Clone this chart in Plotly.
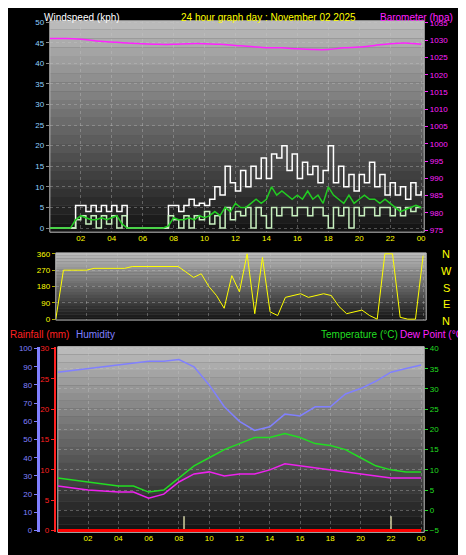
import plotly.graph_objects as go

# ---------------- data ----------------
wind_hours = [i/3 for i in range(73)]
gust = [0,0,0,0,0,5.5,5.5,4,5.5,4,5.5,4,5.5,4,5.5,0,0,0,0,0,0,0,0,5.5,5.5,4,5.5,7,5.5,6,5.5,7,10,8,15,11,9,14,10,15,12,17,12,18,17,20,14,18,12,16,13,15,11,14,20,11,15,10,13,9,13,11,16,10,13,8,11,8,10,7,11,8,9]
wind_avg = [0,0,0,0,0,2,3,2.5,2,2,2.5,2,2.5,3,1,0,0,0,0,0,0,0,0,0.5,2.5,2,2,2.5,2,3,2.5,3,4,3,5,4,6,5,5,6,7,6,7,10,8,9,8,7,8,7,9,7,8,6,10,8,7,6,8,6,7,8,7,7,6,7,6,5,4,4.5,5,5.5,5]
wind_spd = [0,0,0,0,0,2,3,1,3,0,3,1,3,0,3,0,0,0,0,0,0,0,0,3,2,0,3,0,3,2,4,1,3,0,5,2,4,3,5,0,5,3,0,5,3,5,5,3,5,5,3,5,5,3,0,5,3,5,0,5,3,5,5,3,5,5,3,5,3,5,4,5,5]
hours = list(range(25))
baro = [1030.5,1030.5,1030.3,1029.8,1029.5,1029.2,1029,1028.8,1028.8,1029,1029,1028.8,1028.5,1028.2,1027.8,1027.8,1027.5,1027.3,1027.3,1027.8,1028,1028.5,1029,1029.2,1028.8]
dir_hours = [i/2 for i in range(49)]
wind_dir = [0,270,270,270,270,280,280,280,280,280,290,290,290,290,290,290,290,260,230,250,180,130,60,240,150,360,30,340,40,20,120,130,140,120,130,140,130,70,30,40,50,20,0,360,360,10,0,0,350]
humidity = [87,88,89,90,91,92,93,93,94,90,80,68,60,55,57,64,63,68,68,75,78,82,87,89,91]
temperature = [8,7.5,7,6.5,6,6,4.5,5,8,11,13,15,16.5,18,18,19,18,16.5,16,15,13,11,10,9.5,9.5]
dewpoint = [6,5.5,5,4.8,4.5,4.5,3,4,7,9,9.5,8.5,9,9,10,11.5,11,10.5,10,9.5,9,8.5,8,8,8]
rainfall = [0]*25
marker_hours = [8.33, 22.0]
tick_vals = [2,4,6,8,10,12,14,16,18,20,22,24]
tick_text = ["02","04","06","08","10","12","14","16","18","20","22","00"]

fig = go.Figure()
W, H = 466, 555
def px(x): return x / W
def py(y): return 1 - y / H

F = dict(family="Liberation Sans", size=8)
xcommon = dict(range=[0, 24.2], tickvals=tick_vals, ticktext=tick_text, showgrid=True,
               gridcolor="rgba(200,200,200,0.35)", griddash="dot", tickfont=dict(F, color="#ffff00"),
               zeroline=False, showline=False)

fig.add_trace(go.Scatter(x=wind_hours, y=gust, mode="lines", line=dict(color="white", width=1.5, shape="hv"), xaxis="x", yaxis="y"))
fig.add_trace(go.Scatter(x=wind_hours, y=wind_spd, mode="lines", line=dict(color="#c8f0c0", width=1.5, shape="hv"), xaxis="x", yaxis="y"))
fig.add_trace(go.Scatter(x=wind_hours, y=wind_avg, mode="lines", line=dict(color="#22cc22", width=1.5), xaxis="x", yaxis="y"))
fig.add_trace(go.Scatter(x=hours, y=baro, mode="lines", line=dict(color="#ff22ff", width=1.5, shape="spline"), xaxis="x", yaxis="y2"))
fig.add_trace(go.Scatter(x=dir_hours, y=wind_dir, mode="lines", line=dict(color="#ffff00", width=1), xaxis="x2", yaxis="y3"))
fig.add_trace(go.Scatter(x=hours, y=humidity, mode="lines", line=dict(color="#8080ff", width=1.5), xaxis="x3", yaxis="y4"))
fig.add_trace(go.Scatter(x=hours, y=rainfall, mode="lines", line=dict(color="#ff0000", width=3), xaxis="x3", yaxis="y5"))
fig.add_trace(go.Scatter(x=hours, y=temperature, mode="lines", line=dict(color="#22dd22", width=1.5), xaxis="x3", yaxis="y6"))
fig.add_trace(go.Scatter(x=hours, y=dewpoint, mode="lines", line=dict(color="#ee22ee", width=1.5), xaxis="x3", yaxis="y6"))
fig.add_trace(go.Bar(x=marker_hours, y=[3.5]*len(marker_hours), base=-5, width=0.08, marker_color="#b0a000", xaxis="x3", yaxis="y6"))

d1x, d1y = [px(42), px(418)], [py(224), py(10)]
d2x, d2y = [px(48), px(420)], [py(313), py(245)]
d3x, d3y = [px(50), px(418)], [py(528), py(340)]

fig.update_layout(
    width=W, height=H, margin=dict(l=0, r=0, t=0, b=0), paper_bgcolor="black", plot_bgcolor="#555",
    showlegend=False, font=F, bargap=0,
    xaxis=dict(xcommon, domain=d1x, anchor="y"),
    yaxis=dict(domain=d1y, range=[-1, 50.3], tickvals=list(range(0, 51, 5)), tickfont=dict(F, color="#8fd0ff"),
               gridcolor="rgba(200,200,200,0.35)", griddash="dot", zeroline=False, ticks="outside", ticklen=3, tickcolor="#888"),
    yaxis2=dict(overlaying="y", side="right", anchor="x", range=[974.4, 1035.6], tickvals=list(range(975, 1036, 5)),
                tickfont=dict(F, color="#ff22ff"), showgrid=False, zeroline=False, ticks="outside", ticklen=3, tickcolor="#ff22ff"),
    xaxis2=dict(xcommon, domain=d2x, anchor="y3", showticklabels=False),
    yaxis3=dict(domain=d2y, anchor="x2", range=[-5, 365], tickvals=[0, 90, 180, 270, 360], tickfont=dict(F, color="#ffff00"),
                gridcolor="rgba(200,200,200,0.35)", griddash="dot", zeroline=False, ticks="outside", ticklen=3, tickcolor="#aa0"),
    xaxis3=dict(xcommon, domain=d3x, anchor="y6"),
    yaxis4=dict(anchor="free", position=px(30), overlaying="y6", range=[-1, 101], tickvals=list(range(0, 101, 10)),
                tickfont=dict(F, color="#8080ff"), showgrid=False, zeroline=False, showline=True, linecolor="#8080ff", linewidth=3,
                ticks="outside", ticklen=3, tickcolor="#8080ff"),
    yaxis5=dict(anchor="free", position=px(47), overlaying="y6", range=[-0.3, 30.3], tickvals=list(range(0, 31, 5)),
                tickfont=dict(F, color="#ff2020"), showgrid=False, zeroline=False, showline=True, linecolor="#ff2020", linewidth=2,
                ticks="outside", ticklen=3, tickcolor="#ff2020"),
    yaxis6=dict(domain=d3y, anchor="x3", side="right", range=[-5.45, 40.45], tickvals=list(range(-5, 41, 5)),
                tickfont=dict(F, color="#22dd22"), gridcolor="rgba(200,200,200,0.35)", griddash="dot", zeroline=False,
                ticks="outside", ticklen=3, tickcolor="#22dd22"),
)

shapes = []
for xa, ya in [("x", "y"), ("x2", "y3"), ("x3", "y6")]:
    n = 24
    for i in range(n):
        g = int(18 + (190 - 18) * (i + 0.5) / n)
        shapes.append(dict(type="rect", xref=f"{xa} domain", yref=f"{ya} domain", x0=0, x1=1, y0=i / n, y1=(i + 1) / n,
                           fillcolor=f"rgb({g},{g},{g})", line_width=0, layer="below"))
    shapes.append(dict(type="rect", xref=f"{xa} domain", yref=f"{ya} domain", x0=0, x1=1, y0=0, y1=1,
                       line=dict(color="#bbb", width=1), layer="below"))
fig.update_layout(shapes=shapes)

T = dict(family="Liberation Sans", size=10)
ann = [
    dict(x=px(34), y=py(-1), text="Windspeed (kph)", font=dict(T, color="white"), xanchor="left"),
    dict(x=px(172), y=py(-1), text="24 hour graph day : November 02 2025", font=dict(T, color="#ffff00"), xanchor="left"),
    dict(x=px(372), y=py(-1), text="Barometer (hpa)", font=dict(T, color="#ff22ff"), xanchor="left"),
    dict(x=px(0), y=py(320), text="Rainfall (mm)", font=dict(T, color="#ff2020"), xanchor="left"),
    dict(x=px(66), y=py(320), text="Humidity", font=dict(T, color="#8080ff"), xanchor="left"),
    dict(x=px(312), y=py(320), text="Temperature (°C)", font=dict(T, color="#22dd22"), xanchor="left"),
    dict(x=px(392), y=py(320), text="Dew Point (°C)", font=dict(T, color="#ff22ff"), xanchor="left"),
]
for i, lab in enumerate(["N", "W", "S", "E", "N"]):
    ann.append(dict(x=px(440), y=py(238 + i * 17), text=lab, font=dict(family="Liberation Sans", size=11, color="#ffff00"), xanchor="center"))
for a in ann:
    a.update(xref="paper", yref="paper", yanchor="top", showarrow=False)
fig.update_layout(annotations=ann)

fig.write_html("out.html")
